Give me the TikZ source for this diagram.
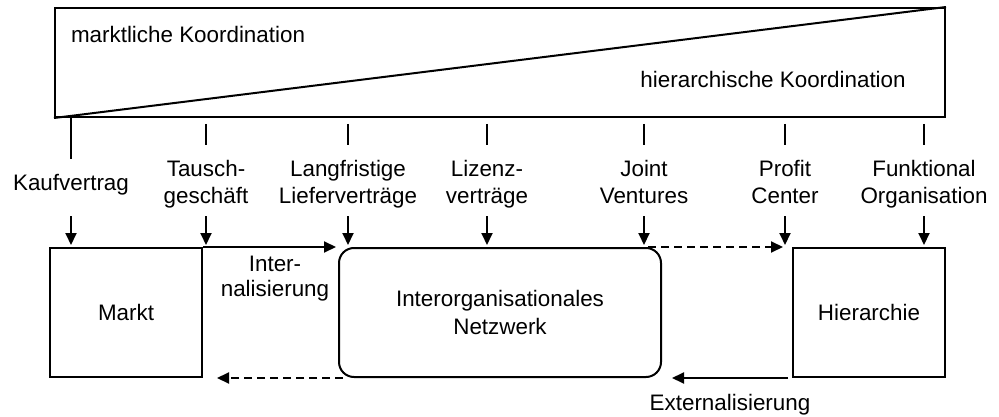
\documentclass[tikz,border=0pt]{standalone}
\usepackage{fontspec}
\setmainfont{Liberation Sans}
\usetikzlibrary{arrows.meta,calc}
\begin{document}
\begin{tikzpicture}[x=1pt,y=-1pt,line width=2pt,
  txt/.style={font=\fontsize{22.4}{28}\selectfont, inner sep=0pt},
  lbl/.style={txt, align=center},
  box/.style={draw, txt, align=center, anchor=north west,
    minimum height=129pt, inner sep=0pt},
  arr/.style={-{Triangle[length=12pt,width=11pt]}},
  dsh/.style={arr, dash pattern=on 8pt off 5pt}]
\useasboundingbox (0,0) rectangle (999,417);

% coordination wedge: market share above the diagonal, hierarchy below
\node[draw, anchor=north west, minimum width=890pt, minimum height=109pt,
  inner sep=0pt] (koord) at (54,7) {};
\draw (koord.south west) -- (koord.north east);
\node[txt, anchor=base west] (mk) at (70,43) {marktliche Koordination};
\node[txt, anchor=base east] (hk) at (906.7,88) {hierarchische Koordination};

% the three forms of organisation
\node[box, minimum width=152pt] (markt) at (49,247) {Markt};
\node[box, minimum width=322pt, rounded corners=15pt] (netz) at (338,247)
  {Interorganisationales\\Netzwerk};
\node[box, minimum width=152pt] (hier) at (792,247) {Hierarchie};

% contract / organisation types along the scale
\node[lbl] (l1) at (71,184.4)  {\strut Kaufvertrag};
\node[lbl] (l2) at (206,184.4) {\strut Tausch-\\\strut gesch\"aft};
\node[lbl] (l3) at (348,184.4) {\strut Langfristige\\\strut Lieferver\-tr\"age};
\node[lbl] (l4) at (487,184.4) {\strut Lizenz-\\\strut vertr\"age};
\node[lbl] (l5) at (644,184.4) {\strut Joint\\\strut Ventures};
\node[lbl] (l6) at (785,184.4) {\strut Profit\\\strut Center};
\node[lbl] (l7) at (924,184.4) {\strut Funktional\\\strut Organisation};

% ticks from the wedge down to each label
\draw[shorten >=25.4pt] (koord.south -| l1.center) -- (l1.center);
\foreach \n in {l2,l3,l4,l5,l6,l7}
  \draw[shorten <=6pt, shorten >=39.4pt] (koord.south -| \n.center) -- (\n.center);

% arrows from each label onto the boxes
\draw[arr, shorten <=31.6pt, shorten >=2pt] (l1.center) -- (l1 |- markt.north);
\draw[arr, shorten <=31.6pt, shorten >=2pt] (l2.center) -- (l2 |- markt.north);
\draw[arr, shorten <=31.6pt, shorten >=2pt] (l3.center) -- (l3 |- netz.north);
\draw[arr, shorten <=31.6pt, shorten >=2pt] (l4.center) -- (l4 |- netz.north);
\draw[arr, shorten <=31.6pt, shorten >=2pt] (l5.center) -- (l5 |- netz.north);
\draw[arr, shorten <=31.6pt, shorten >=2pt] (l6.center) -- (l6 |- hier.north);
\draw[arr, shorten <=31.6pt, shorten >=2pt] (l7.center) -- (l7 |- hier.north);

% internalisation (top) and externalisation (bottom)
\draw[arr, shorten >=2pt] (markt.north east) -- (netz.north west);
\node[lbl, font=\fontsize{22.4}{25}\selectfont] (int) at (275,278.5)
  {Inter-\\nalisierung};
\draw[dsh, shorten <=4pt, shorten >=2pt] (l5 |- netz.north) -- (l6 |- hier.north);
\draw[dsh] ([xshift=5pt]netz.south west) -- ([xshift=14pt]markt.south east);
\draw[arr] ([xshift=-4pt]hier.south west) -- ([xshift=10pt]netz.south east);
\node[txt, anchor=base] (ext) at (730,410) {Externalisierung};
\end{tikzpicture}
\end{document}
